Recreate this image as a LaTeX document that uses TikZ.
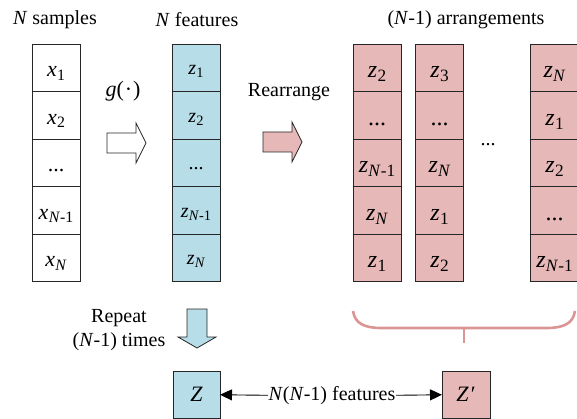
\documentclass[tikz,border=0pt]{standalone}
\usepackage{fontspec}
\setmainfont{Liberation Serif}
\usepackage{graphicx}
\usetikzlibrary{arrows.meta}
\definecolor{cblue}{RGB}{183,221,232}
\definecolor{cpink}{RGB}{230,185,184}
\definecolor{cbrace}{RGB}{217,150,148}
\newcommand{\vsub}[2]{\textit{#1}\kern0.3pt\raisebox{-0.35ex}{\scalebox{0.72}{#2}}}
\begin{document}
\begin{tikzpicture}[x=1pt,y=-1pt,
  cell/.style={draw=black!85, line width=0.8pt, minimum width=48pt, minimum height=47.5pt, inner sep=0pt, outer sep=0pt},
  wcell/.style={cell, fill=white, font=\fontsize{22}{26}\selectfont, text height=20pt, text depth=2pt},
  bcell/.style={cell, fill=cblue, font=\fontsize{20}{24}\selectfont, text height=16pt, text depth=2pt},
  pcell/.style={cell, fill=cpink, font=\fontsize{24}{28}\selectfont, text height=22pt, text depth=2pt},
  lbl/.style={font=\fontsize{20}{24}\selectfont, inner sep=0pt},
  shapeline/.style={draw=black!85, line width=0.8pt},
  brace/.style={draw=cbrace, line width=2.6pt},
  conn/.style={line width=0.9pt, -{Triangle[length=12pt,width=11pt]}}
]
\useasboundingbox (0,0) rectangle (577,419);

% headings
\node[lbl] (ns) at (55,20) {\textit{N} samples};
\node[lbl] (nf) at (197,20) {\textit{N} features};
\node[lbl] (na) at (466,20) {(\textit{N}-1) arrangements};

% sample column
\node[wcell] (x1) at (56,67.75) {\vsub{x}{1}};
\node[wcell] (x2) at (56,115.25) {\vsub{x}{2}};
\node[wcell] (x3) at (56,162.75) {...};
\node[wcell] (x4) at (56,210.25) {\vsub{x}{\textit{N}-1}};
\node[wcell] (x5) at (56,257.75) {\vsub{x}{\textit{N}}};

% feature column
\node[bcell] (b1) at (196,67.75) {\vsub{z}{1}};
\node[bcell] (b2) at (196,115.25) {\vsub{z}{2}};
\node[bcell] (b3) at (196,162.75) {...};
\node[bcell] (b4) at (196,210.25) {\vsub{z}{\textit{N}-1}};
\node[bcell] (b5) at (196,257.75) {\vsub{z}{\textit{N}}};

% arrangement 1
\node[pcell] (p11) at (377,67.75) {\vsub{z}{2}};
\node[pcell] (p12) at (377,115.25) {...};
\node[pcell] (p13) at (377,162.75) {\vsub{z}{\textit{N}-1}};
\node[pcell] (p14) at (377,210.25) {\vsub{z}{\textit{N}}};
\node[pcell] (p15) at (377,257.75) {\vsub{z}{1}};
% arrangement 2
\node[pcell] (p21) at (439.5,67.75) {\vsub{z}{3}};
\node[pcell] (p22) at (439.5,115.25) {...};
\node[pcell] (p23) at (439.5,162.75) {\vsub{z}{\textit{N}}};
\node[pcell] (p24) at (439.5,210.25) {\vsub{z}{1}};
\node[pcell] (p25) at (439.5,257.75) {\vsub{z}{2}};
% arrangement N-1
\node[pcell] (p31) at (554.5,67.75) {\vsub{z}{\textit{N}}};
\node[pcell] (p32) at (554.5,115.25) {\vsub{z}{1}};
\node[pcell] (p33) at (554.5,162.75) {\vsub{z}{2}};
\node[pcell] (p34) at (554.5,210.25) {...};
\node[pcell] (p35) at (554.5,257.75) {\vsub{z}{\textit{N}-1}};

\node[lbl] (dots) at (488,145) {...};

% g arrow
\node[lbl, font=\fontsize{22}{26}\selectfont] (g) at (123,91) {\textit{g}(\kern1pt·\kern1pt)};
\draw[shapeline, fill=white] (107,133) -- (136,133) -- (136,123) -- (146,143) -- (136,163) -- (136,153) -- (107,153) -- cycle;

% rearrange arrow
\node[lbl] (re) at (289,92) {Rearrange};
\draw[shapeline, fill=cpink] (263,132) -- (292,132) -- (292,122) -- (302,142) -- (292,162) -- (292,152) -- (263,152) -- cycle;

% repeat arrow
\node[lbl, align=center] (rep) at (119,330) {Repeat\\(\textit{N}-1) times};
\draw[shapeline, fill=cblue] (187,309) -- (207,309) -- (207,337) -- (216,337) -- (197,348) -- (178,337) -- (187,337) -- cycle;

% brace
\draw[brace] (353,311) .. controls (355,324) and (365,328) .. (382,328) -- (546,328) .. controls (563,328) and (573,324) .. (575,311);
\draw[brace] (464,328) -- (464,343);

% bottom
\node[cell, fill=cblue, minimum width=47pt, minimum height=47pt, font=\fontsize{22}{26}\selectfont] (Z) at (196.5,394.5) {\textit{Z}};
\node[cell, fill=cpink, minimum width=48pt, minimum height=47pt, font=\fontsize{22}{26}\selectfont] (Zp) at (466,394.5) {\textit{Z}\kern2pt′};
\node[lbl, inner xsep=0.5pt] (feat) at (332,396) {\textit{N}(\textit{N}-1) features};
\draw[conn] (feat) -- (Z);
\draw[conn] (feat) -- (Zp);
\end{tikzpicture}
\end{document}
